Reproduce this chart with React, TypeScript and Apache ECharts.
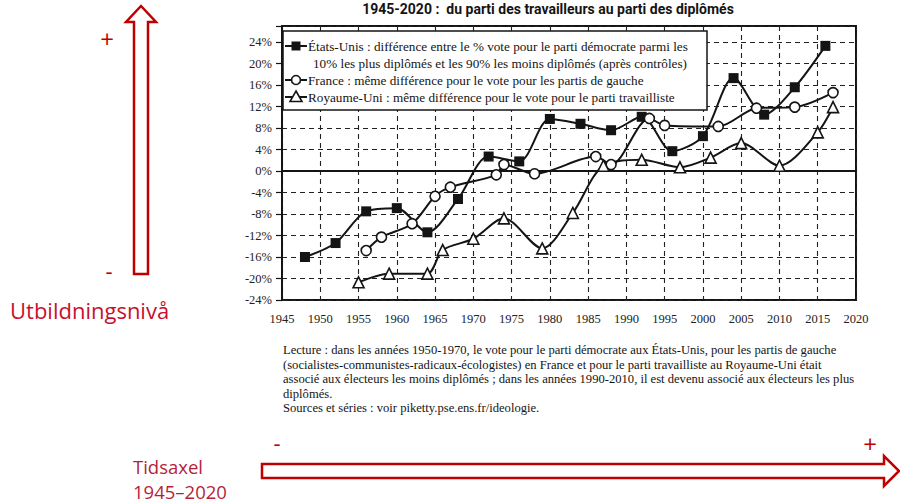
import { useEffect, useRef } from "react";
import * as echarts from "echarts";

// ---- data ----
const usYears = [1948, 1952, 1956, 1960, 1964, 1968, 1972, 1976, 1980, 1984, 1988, 1992, 1996, 2000, 2004, 2008, 2012, 2016];
const usValues = [-16, -13.4, -7.5, -6.9, -11.4, -5.2, 2.7, 1.8, 9.7, 8.8, 7.6, 10.1, 3.7, 6.5, 17.3, 10.5, 15.6, 23.3];

const frYears = [1956, 1958, 1962, 1965, 1967, 1973, 1974, 1978, 1986, 1988, 1993, 1995, 2002, 2007, 2012, 2017];
const frValues = [-14.8, -12.3, -9.8, -4.7, -3, -0.7, 1.2, -0.5, 2.7, 1.2, 9.8, 8.5, 8.3, 11.7, 11.9, 14.6];

const ukYears = [1955, 1959, 1964, 1966, 1970, 1974, 1979, 1983, 1987, 1992, 1997, 2001, 2005, 2010, 2015, 2017];
const ukValues = [-20.7, -19.1, -19.1, -14.7, -12.6, -8.8, -14.4, -7.8, 1.0, 2.1, 0.7, 2.5, 5.2, 1.0, 7.2, 11.9];

const seriesNames = ["États-Unis", "France", "Royaume-Uni"];

const titleText = "1945-2020 :  du parti des travailleurs au parti des diplômés";

const legendLines = [
  "États-Unis : différence entre le % vote pour le parti démocrate parmi les",
  "10% les plus diplômés et les 90% les moins diplômés (après contrôles)",
  "France : même différence pour le vote pour les partis de gauche",
  "Royaume-Uni : même différence pour le vote pour le parti travailliste",
];

const captionLines = [
  "Lecture : dans les années 1950-1970, le vote pour le parti démocrate aux États-Unis, pour les partis de gauche",
  "(socialistes-communistes-radicaux-écologistes) en France et pour le parti travailliste au Royaume-Uni était",
  "associé aux électeurs les moins diplômés ; dans les années 1990-2010, il est devenu associé aux électeurs les plus",
  "diplômés.",
  "Sources et séries : voir piketty.pse.ens.fr/ideologie.",
];

const yAxisLabel = "Utbildningsnivå";
const xAxisLabel1 = "Tidsaxel";
const xAxisLabel2 = "1945–2020";

const INK = "#141414";
const RED = "#c00000";
const SERIF = "'Liberation Serif', 'DejaVu Serif', serif";
const SANS = "'Open Sans', 'Noto Sans', sans-serif";

function pairs(xs: number[], ys: number[]) {
  return xs.map((x, i) => [x, ys[i]]);
}

export default function App() {
  const ref = useRef<HTMLDivElement>(null);

  useEffect(() => {
    if (!ref.current) return;
    const chart = echarts.init(ref.current, null, { renderer: "svg" });

    const lgX = 283, lgY = 31, lgW = 424, lgH = 79;
    const rowY = [46, 63, 80, 97];
    const iconCx = 296;

    const legendText = (t: string, x: number, y: number) => ({
      type: "text",
      x,
      y,
      z: 102,
      style: { text: t, fontFamily: SERIF, fontSize: 13.2, fill: INK, align: "left", verticalAlign: "middle" },
    });
    const legendLine = (y: number) => ({
      type: "line",
      z: 101,
      shape: { x1: iconCx - 11, y1: y, x2: iconCx + 11, y2: y },
      style: { stroke: INK, lineWidth: 2 },
    });

    const graphic: any[] = [
      // title
      {
        type: "text",
        x: 548,
        y: 9,
        style: { text: titleText, fontFamily: "Roboto, 'Noto Sans', sans-serif", fontWeight: "bold", fontSize: 14, fill: INK, align: "center", verticalAlign: "middle" },
      },
      // legend box
      { type: "rect", z: 100, shape: { x: lgX, y: lgY, width: lgW, height: lgH }, style: { fill: "#fff", stroke: INK, lineWidth: 1.5 } },
      legendLine(rowY[0]),
      { type: "rect", z: 102, shape: { x: iconCx - 4.5, y: rowY[0] - 4.5, width: 9, height: 9 }, style: { fill: INK } },
      legendText(legendLines[0], 308, rowY[0]),
      legendText(legendLines[1], 313, rowY[1]),
      legendLine(rowY[2]),
      { type: "circle", z: 102, shape: { cx: iconCx, cy: rowY[2], r: 4.5 }, style: { fill: "#fff", stroke: INK, lineWidth: 1.6 } },
      legendText(legendLines[2], 308, rowY[2]),
      legendLine(rowY[3]),
      {
        type: "polygon",
        z: 102,
        shape: { points: [[iconCx, rowY[3] - 6], [iconCx + 6, rowY[3] + 4.5], [iconCx - 6, rowY[3] + 4.5]] },
        style: { fill: "#fff", stroke: INK, lineWidth: 1.6 },
      },
      legendText(legendLines[3], 308, rowY[3]),
      // caption
      ...captionLines.map((t, i) => ({
        type: "text",
        x: 283,
        y: 350 + i * 14.5,
        style: { text: t, fontFamily: SERIF, fontSize: 12.6, fill: INK, align: "left", verticalAlign: "middle" },
      })),
      // vertical red arrow
      {
        type: "polygon",
        shape: { points: [[134, 274], [148, 274], [148, 22], [156, 22], [141, 6], [126, 22], [134, 22]] },
        style: { fill: "#fff", stroke: RED, lineWidth: 2.5 },
      },
      { type: "text", x: 107, y: 38, style: { text: "+", fontFamily: SANS, fontSize: 24, fill: RED, align: "center", verticalAlign: "middle" } },
      { type: "text", x: 109, y: 270, style: { text: "-", fontFamily: SANS, fontSize: 22, fill: RED, align: "center", verticalAlign: "middle" } },
      { type: "text", x: 10, y: 310, style: { text: yAxisLabel, fontFamily: SANS, fontSize: 22, fill: "#c8102e", align: "left", verticalAlign: "middle" } },
      // horizontal red arrow
      {
        type: "polygon",
        shape: { points: [[262, 464], [884, 464], [884, 456], [899, 471], [884, 486], [884, 478], [262, 478]] },
        style: { fill: "#fff", stroke: RED, lineWidth: 2.5 },
      },
      { type: "text", x: 277, y: 442, style: { text: "-", fontFamily: SANS, fontSize: 22, fill: RED, align: "center", verticalAlign: "middle" } },
      { type: "text", x: 870, y: 443, style: { text: "+", fontFamily: SANS, fontSize: 24, fill: RED, align: "center", verticalAlign: "middle" } },
      { type: "text", x: 133, y: 466, style: { text: xAxisLabel1, fontFamily: SANS, fontSize: 18.5, fill: "#b41f3a", align: "left", verticalAlign: "middle" } },
      { type: "text", x: 133, y: 491, style: { text: xAxisLabel2, fontFamily: SANS, fontSize: 18.5, fill: "#b41f3a", align: "left", verticalAlign: "middle" } },
    ];

    const dashed = { type: [5, 4] as any, color: "#222", width: 1.1 };

    const baseSeries = {
      type: "line",
      smooth: 0.3,
      lineStyle: { color: INK, width: 2 },
      z: 5,
    };

    chart.setOption({
      animation: false,
      backgroundColor: "#fff",
      grid: {
        left: 282,
        right: 44,
        top: 26,
        bottom: 204,
        show: true,
        borderColor: INK,
        borderWidth: 2,
        containLabel: false,
        outerBoundsMode: "none",
      },
      xAxis: {
        type: "value",
        min: 1945,
        max: 2020,
        interval: 5,
        axisLine: { show: true, lineStyle: { color: INK, width: 2 } },
        axisTick: { show: false },
        axisLabel: {
          margin: 12,
          fontFamily: SERIF,
          fontSize: 12.5,
          color: "#222",
          formatter: (v: number) => String(v),
        },
        splitLine: { show: true, lineStyle: dashed },
      },
      yAxis: {
        type: "value",
        min: -24,
        max: 27,
        interval: 4,
        axisLine: { show: true, lineStyle: { color: INK, width: 2 } },
        axisTick: { show: true, length: 6, lineStyle: { color: INK, width: 1.2 } },
        axisLabel: {
          margin: 10,
          fontFamily: SERIF,
          fontSize: 12.5,
          color: "#222",
          formatter: (v: number) => (Math.abs(v % 4) < 1e-9 ? `${v}%` : ""),
        },
        splitLine: { show: true, lineStyle: dashed },
      },
      series: [
        {
          ...baseSeries,
          name: seriesNames[0],
          data: pairs(usYears, usValues),
          symbol: "rect",
          symbolSize: 10,
          itemStyle: { color: INK, borderColor: INK, borderWidth: 0 },
          markLine: {
            silent: true,
            symbol: ["none", "none"],
            label: { show: false },
            lineStyle: { color: INK, width: 2, type: "solid" },
            data: [{ yAxis: 0 }],
          },
        },
        {
          ...baseSeries,
          name: seriesNames[1],
          data: pairs(frYears, frValues),
          symbol: "circle",
          symbolSize: 10,
          itemStyle: { color: "#fff", borderColor: INK, borderWidth: 1.6 },
        },
        {
          ...baseSeries,
          name: seriesNames[2],
          data: pairs(ukYears, ukValues),
          symbol: "triangle",
          symbolSize: 11,
          itemStyle: { color: "#fff", borderColor: INK, borderWidth: 1.6 },
        },
      ],
      graphic,
    });

    return () => chart.dispose();
  }, []);

  return <div ref={ref} style={{ position: "absolute", left: 0, top: 0, width: 900, height: 504 }} />;
}
